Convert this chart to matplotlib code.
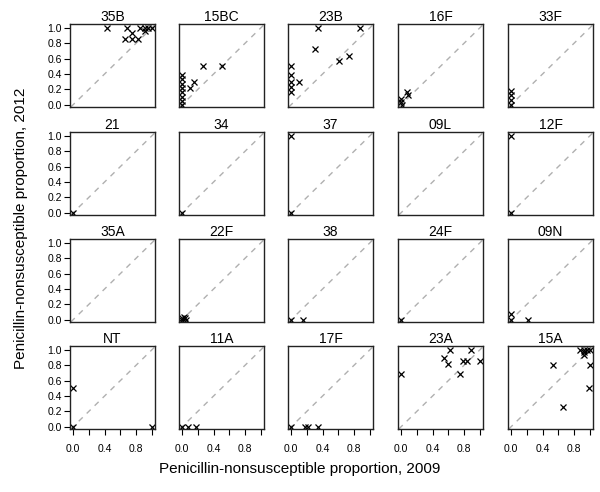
import matplotlib
matplotlib.use('Agg')
import matplotlib.pyplot as plt

plt.rcParams['font.family'] = ['Liberation Sans', 'DejaVu Sans']

# serotype panels, row by row
serotypes = ['35B', '15BC', '23B', '16F', '33F',
             '21', '34', '37', '09L', '12F',
             '35A', '22F', '38', '24F', '09N',
             'NT', '11A', '17F', '23A', '15A']

# proportion nonsusceptible in 2009 (x) and 2012 (y) for each point
x2009 = {
    '35B': [0.43, 0.69, 0.66, 0.75, 0.75, 0.83, 0.85, 0.91, 0.91, 0.95, 1.0],
    '15BC': [0, 0, 0, 0, 0, 0, 0, 0, 0.10, 0.15, 0.26, 0.50],
    '23B': [0.34, 0.87, 0.30, 0.61, 0.73, 0.10, 0, 0, 0, 0, 0],
    '16F': [0.08, 0.09, 0, 0, 0.01],
    '33F': [0, 0, 0, 0],
    '21': [0], '34': [0], '37': [0, 0], '09L': [], '12F': [0, 0],
    '35A': [], '22F': [0, 0.02, 0.04, 0.05, 0], '38': [0, 0.15],
    '24F': [0], '09N': [0, 0, 0.21],
    'NT': [0, 0, 1.0], '11A': [0, 0.08, 0.17], '17F': [0, 0.17, 0.21, 0.34],
    '23A': [0, 0.54, 0.59, 0.62, 0.75, 0.79, 0.84, 0.89, 1.0],
    '15A': [0.53, 0.66, 0.99, 1.0, 0.92, 0.88, 0.92, 0.96, 1.0, 0.93],
}
y2012 = {
    '35B': [1.0, 1.0, 0.86, 0.93, 0.86, 0.86, 1.0, 1.0, 0.96, 1.0, 1.0],
    '15BC': [0.38, 0.33, 0.27, 0.22, 0.16, 0.10, 0.05, 0.0, 0.22, 0.29, 0.50, 0.50],
    '23B': [1.0, 1.0, 0.73, 0.57, 0.63, 0.30, 0.50, 0.38, 0.30, 0.23, 0.17],
    '16F': [0.16, 0.13, 0.07, 0.03, 0.0],
    '33F': [0.18, 0.12, 0.06, 0.0],
    '21': [0], '34': [0], '37': [1.0, 0], '09L': [], '12F': [1.0, 0],
    '35A': [], '22F': [0, 0.04, 0.02, 0, 0.02], '38': [0, 0],
    '24F': [0], '09N': [0.08, 0, 0],
    'NT': [0.5, 0, 0], '11A': [0, 0, 0], '17F': [0, 0, 0, 0],
    '23A': [0.68, 0.89, 0.82, 1.0, 0.69, 0.86, 0.86, 1.0, 0.86],
    '15A': [0.80, 0.25, 0.50, 0.80, 0.93, 1.0, 1.0, 1.0, 1.0, 0.97],
}

W, H = 600, 492
fig = plt.figure(figsize=(W / 100, H / 100), dpi=100)

lefts = [70, 179, 288, 398, 508]
tops = [24, 132, 239, 346]
pw, ph = 85, 83

for i, name in enumerate(serotypes):
    r, c = divmod(i, 5)
    ax = fig.add_axes([lefts[c] / W, 1 - (tops[r] + ph) / H, pw / W, ph / H])
    ax.set_xlim(-0.04, 1.04)
    ax.set_ylim(-0.03, 1.05)
    ax.axline((0, 0), (1, 1), color='#b0b0b0', lw=1, ls=(0, (4, 4)))
    ax.plot(x2009[name], y2012[name], 'x', color='black', ms=5, mew=0.9)
    ax.set_title(name, fontsize=10, pad=1.5)
    for s in ax.spines.values():
        s.set_linewidth(1)
        s.set_color('#222222')
    ax.tick_params(direction='out', length=4, width=0.8, labelsize=7.5, pad=2)
    if c == 0:
        ax.set_yticks([0, 0.2, 0.4, 0.6, 0.8, 1.0])
        ax.set_yticklabels(['0.0', '0.2', '0.4', '0.6', '0.8', '1.0'])
    else:
        ax.set_yticks([])
    if r == 3:
        ax.set_xticks([0, 0.2, 0.4, 0.6, 0.8, 1.0])
        ax.set_xticklabels(['0.0', '', '0.4', '', '0.8', ''])
        ax.tick_params(axis='x', pad=7)
    else:
        ax.set_xticks([])

fig.text(300 / W, 1 - 469 / H, 'Penicillin-nonsusceptible proportion, 2009',
         ha='center', va='center', fontsize=11)
fig.text(21 / W, 1 - 228 / H, 'Penicillin-nonsusceptible proportion, 2012',
         ha='center', va='center', fontsize=11, rotation=90)

fig.savefig('out.png', dpi=100)
